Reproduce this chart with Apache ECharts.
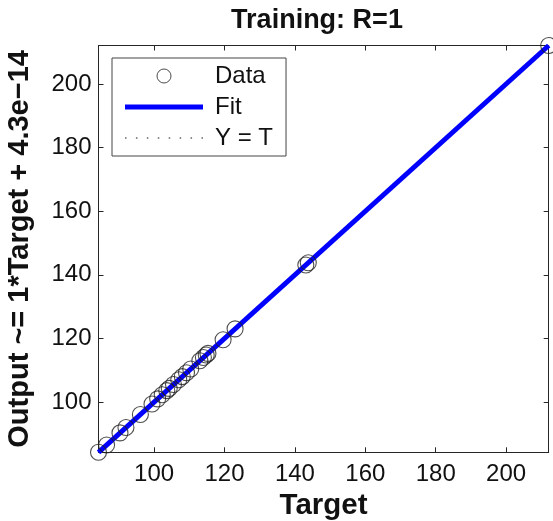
<!DOCTYPE html>
<html>
<head>
<meta charset="utf-8">
<script src="https://cdn.jsdelivr.net/npm/echarts@6/dist/echarts.min.js"></script>
<style>
html,body{margin:0;padding:0;background:#fff;}
#chart{width:553px;height:521px;}
</style>
</head>
<body>
<div id="chart"></div>
<script>
// Targets and network outputs (R = 1, so outputs equal targets)
var targets = [84.2, 86.5, 90.3, 92.0, 96.1, 99.4, 101.0, 102.3, 103.6, 104.3, 105.5, 107.0, 108.0, 109.2, 110.4, 113.0, 114.0, 114.8, 115.3, 119.6, 123.0, 143.1, 143.8, 212.1];
var outputs = [84.2, 86.5, 90.3, 92.0, 96.1, 99.4, 101.0, 102.3, 103.6, 104.3, 105.5, 107.0, 108.0, 109.2, 110.4, 113.0, 114.0, 114.8, 115.3, 119.6, 123.0, 143.1, 143.8, 212.1];
var fitSlope = 1;
var fitOffset = 4.3e-14;
var titleText = 'Training: R=1';
var xName = 'Target';
var yName = 'Output ~= 1*Target + 4.3e\u221214';
var legendNames = ['Data', 'Fit', 'Y = T'];

var all = targets.concat(outputs);
var lo = Math.min.apply(null, all);
var hi = Math.max.apply(null, all);

var dataPts = targets.map(function (t, i) { return [t, outputs[i]]; });
var fitPts = [[lo, fitSlope * lo + fitOffset], [hi, fitSlope * hi + fitOffset]];
var idPts = [[lo, lo], [hi, hi]];

var FONT = 'Liberation Sans, Arial, sans-serif';
var AX = '#262626';

function axisBase(pos, showLabel) {
  return {
    type: 'value',
    position: pos,
    min: lo, max: hi,
    minInterval: 20, maxInterval: 20,
    scale: true,
    splitLine: { show: false },
    axisLine: { show: true, onZero: false, lineStyle: { color: AX, width: 1 } },
    axisTick: { show: true, inside: true, length: 5, lineStyle: { color: AX, width: 1 } },
    axisLabel: {
      show: showLabel, color: '#111', fontSize: 24, fontFamily: FONT,
      showMinLabel: false, showMaxLabel: false
    }
  };
}

var xMain = axisBase('bottom', true);
xMain.name = xName;
xMain.nameLocation = 'middle';
xMain.nameGap = 38;
xMain.nameTextStyle = { fontSize: 29.5, fontWeight: 'bold', color: '#111', fontFamily: FONT };
xMain.axisLabel.margin = 10;
var xTop = axisBase('top', false);

var yMain = axisBase('left', true);
yMain.name = yName;
yMain.nameLocation = 'middle';
yMain.nameGap = 64;
yMain.nameTextStyle = { fontSize: 29, fontWeight: 'bold', color: '#111', fontFamily: FONT };
yMain.axisLabel.margin = 7;
var yRight = axisBase('right', false);

var dotsPath = 'path://';
for (var k = 0; k < 8; k++) { dotsPath += 'M' + (k * 10) + ',0h1.4v1.4h-1.4z'; }

var chart = echarts.init(document.getElementById('chart'), null, { renderer: 'canvas' });
chart.setOption({
  backgroundColor: '#fff',
  animation: false,
  title: {
    text: titleText,
    left: 312, top: 2, textAlign: 'center',
    textStyle: { fontSize: 27, fontWeight: 'bold', color: '#111', fontFamily: FONT }
  },
  grid: { left: 98.5, right: 4.3, top: 45.5, bottom: 68.7, containLabel: false, outerBoundsMode: 'none' },
  xAxis: [xMain, xTop],
  yAxis: [yMain, yRight],
  legend: {
    orient: 'vertical',
    left: 112, top: 58,
    width: 173,
    padding: [6, 13, 6, 13],
    itemGap: 7,
    itemWidth: 78, itemHeight: 14,
    borderColor: '#444', borderWidth: 1, borderRadius: 0,
    backgroundColor: '#fff',
    textStyle: { fontSize: 24, color: '#111', fontFamily: FONT, padding: [0, 0, 0, 7] },
    data: [
      { name: legendNames[0], icon: 'circle', itemStyle: { color: 'rgba(0,0,0,0)', borderColor: '#222', borderWidth: 1 } },
      { name: legendNames[1], icon: 'path://M0,0h78v5h-78z', itemStyle: { color: '#0000ff', borderWidth: 0 } },
      { name: legendNames[2], icon: dotsPath, itemStyle: { color: '#666', borderWidth: 0 } }
    ]
  },
  series: [
    {
      name: legendNames[2], type: 'line', data: idPts,
      showSymbol: false, symbol: 'none', silent: true, z: 1,
      lineStyle: { color: '#555', width: 1, type: [1, 5] }
    },
    {
      name: legendNames[1], type: 'line', data: fitPts,
      showSymbol: false, symbol: 'none', silent: true, z: 2,
      lineStyle: { color: '#0000ff', width: 5 }, itemStyle: { color: '#0000ff' }
    },
    {
      name: legendNames[0], type: 'scatter', data: dataPts, z: 3,
      symbol: 'circle', symbolSize: 16,
      itemStyle: { color: 'rgba(0,0,0,0)', borderColor: '#222', borderWidth: 1.1 }
    }
  ]
});
</script>
</body>
</html>
